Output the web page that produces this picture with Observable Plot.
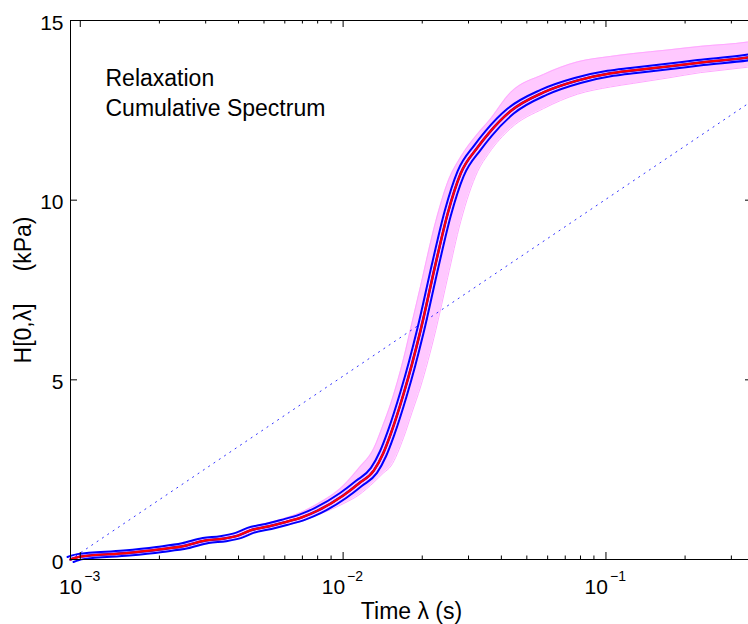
<!DOCTYPE html>
<html><head><meta charset="utf-8">
<script src="https://cdn.jsdelivr.net/npm/d3@7"></script>
<script src="https://cdn.jsdelivr.net/npm/@observablehq/plot@0.6"></script>
<style>
html,body{margin:0;padding:0;background:#fff;overflow:hidden;}
svg{max-width:none !important;}
</style></head><body><div id="chart"></div>
<script>
// relaxation time (s)
const lambda = [9.18e-4, 1.0e-3, 1.5e-3, 2.0e-3, 2.5e-3, 3.0e-3, 3.5e-3, 4.0e-3, 4.44e-3, 5.2e-3,
  5.95e-3, 7.0e-3, 8.0e-3, 1.0e-2, 1.15e-2, 1.31e-2, 1.42e-2, 1.52e-2, 1.70e-2, 1.83e-2,
  1.97e-2, 2.25e-2, 2.50e-2, 2.80e-2, 3.25e-2, 3.58e-2, 4.34e-2, 5.79e-2, 7.80e-2, 0.104,
  0.127, 0.172, 0.229, 0.346, 0.361];
// mean cumulative spectrum H[0,λ] (kPa)
const meanH = [0.00, 0.08, 0.18, 0.28, 0.38, 0.53, 0.58, 0.67, 0.81, 0.92,
  1.03, 1.18, 1.36, 1.78, 2.12, 2.48, 2.95, 3.51, 4.62, 5.45,
  6.37, 8.24, 9.63, 10.74, 11.47, 11.86, 12.48, 13.00, 13.33, 13.53,
  13.61, 13.72, 13.83, 13.97, 13.99];
// envelope of the individual (pink) spectra
const lowerH = [0.00, 0.05, 0.14, 0.24, 0.33, 0.47, 0.52, 0.61, 0.74, 0.84,
  0.94, 1.07, 1.24, 1.55, 1.80, 2.15, 2.40, 2.60, 3.40, 4.10,
  4.80, 6.37, 7.85, 9.40, 10.80, 11.30, 12.00, 12.55, 12.95, 13.15,
  13.25, 13.40, 13.55, 13.70, 13.72];
const upperH = [0.04, 0.12, 0.23, 0.34, 0.45, 0.60, 0.66, 0.76, 0.90, 1.02,
  1.14, 1.33, 1.55, 2.05, 2.55, 3.10, 3.75, 4.35, 5.60, 6.60,
  7.60, 9.40, 10.50, 11.20, 11.85, 12.20, 13.00, 13.50, 13.85, 14.00,
  14.08, 14.18, 14.28, 14.40, 14.42];
// dotted reference line
const refLambda = [9.18e-4, 0.361];
const refH = [0, 12.77];

const xMajor = [1e-3, 1e-2, 1e-1];
const xMajorExp = ["\u22123", "\u22122", "\u22121"];
const xMinor = [2e-3, 3e-3, 4e-3, 5e-3, 6e-3, 7e-3, 8e-3, 9e-3,
  2e-2, 3e-2, 4e-2, 5e-2, 6e-2, 7e-2, 8e-2, 9e-2, 2e-1, 3e-1];
const yTicks = [0, 5, 10, 15];
const annot = ["Relaxation", "Cumulative Spectrum"];
const xLabel = "Time \u03bb (s)";
const yLabel = "H[0,\u03bb]\u00a0\u00a0\u00a0\u00a0\u00a0(kPa)";

const rows = lambda.map((l, i) => ({l, m: meanH[i], lo: lowerH[i], hi: upperH[i]}));
const refRows = refLambda.map((l, i) => ({l, h: refH[i]}));

const font = "'Liberation Sans', Arial, Helvetica, sans-serif";
const innerH = 624 - 20 - 65;
const innerW = 752 - 70;
const cv = "monotone-x";

const chart = Plot.plot({
  width: 760, height: 624,
  marginLeft: 70, marginRight: 8, marginTop: 20, marginBottom: 65,
  style: {fontFamily: font, background: "#fff", maxWidth: "none", overflow: "visible"},
  x: {type: "log", domain: [9.18e-4, 0.361], axis: null},
  y: {domain: [0, 15], axis: null},
  marks: [
    Plot.areaY(rows, {x: "l", y1: "lo", y2: "hi", fill: "#ffb0ff", fillOpacity: 0.7, curve: cv}),
    Plot.line(rows, {x: "l", y: "lo", stroke: "#ffa8ff", strokeWidth: 1, curve: cv}),
    Plot.line(rows, {x: "l", y: "hi", stroke: "#ffa8ff", strokeWidth: 1, curve: cv}),
    Plot.line(refRows, {x: "l", y: "h", stroke: "#0000ff", strokeWidth: 1, strokeDasharray: "1.2,5.2", strokeOpacity: 0.8}),
    Plot.line(rows, {x: "l", y: "m", stroke: "#0000ff", strokeWidth: 2, dx: -3, dy: -2.5, curve: cv}),
    Plot.line(rows, {x: "l", y: "m", stroke: "#0000ff", strokeWidth: 2, dx: 3, dy: 2.5, curve: cv}),
    Plot.line(rows, {x: "l", y: "m", stroke: "#0000ff", strokeWidth: 2.5, curve: cv}),
    Plot.line(rows, {x: "l", y: "m", stroke: "#ff0000", strokeWidth: 2.2, curve: cv}),
    Plot.frame({stroke: "#000", strokeWidth: 1}),
    // x ticks (inward, bottom and top)
    Plot.tickX(xMajor, {x: d => d, insetTop: innerH - 7, stroke: "#000"}),
    Plot.tickX(xMajor, {x: d => d, insetBottom: innerH - 7, stroke: "#000"}),
    Plot.tickX(xMinor, {x: d => d, insetTop: innerH - 3.5, stroke: "#000"}),
    Plot.tickX(xMinor, {x: d => d, insetBottom: innerH - 3.5, stroke: "#000"}),
    // y ticks (inward, left and right)
    Plot.tickY(yTicks, {y: d => d, insetRight: innerW - 7, stroke: "#000"}),
    Plot.tickY(yTicks, {y: d => d, insetLeft: innerW - 7, stroke: "#000"}),
    // x tick labels 10^n
    Plot.text(xMajor, {x: d => d, text: () => "10", frameAnchor: "bottom", textAnchor: "end",
      lineAnchor: "bottom", dx: 2, dy: 34, fontSize: 21, fill: "#000"}),
    Plot.text(xMajor, {x: d => d, text: (d, i) => xMajorExp[i], frameAnchor: "bottom", textAnchor: "start",
      lineAnchor: "bottom", dx: 4, dy: 21, fontSize: 14, fill: "#000"}),
    // y tick labels
    Plot.text(yTicks, {y: d => d, text: d => String(d), frameAnchor: "left", textAnchor: "end",
      lineAnchor: "middle", dx: -7, dy: 2.5, fontSize: 21, fill: "#000"}),
    // annotation (two lines)
    Plot.text([annot[0]], {frameAnchor: "top-left", textAnchor: "start", lineAnchor: "bottom",
      dx: 35, dy: 65, fontSize: 23, fill: "#000"}),
    Plot.text([annot[1]], {frameAnchor: "top-left", textAnchor: "start", lineAnchor: "bottom",
      dx: 35, dy: 95, fontSize: 23, fill: "#000"}),
    // axis labels
    Plot.text([xLabel], {frameAnchor: "bottom", textAnchor: "middle", lineAnchor: "bottom",
      dy: 59, fontSize: 23, fill: "#000"}),
    Plot.text([yLabel], {frameAnchor: "left", textAnchor: "middle", lineAnchor: "bottom",
      rotate: -90, dx: -40, fontSize: 23, fill: "#000"})
  ]
});
document.getElementById("chart").appendChild(chart);
</script></body></html>
